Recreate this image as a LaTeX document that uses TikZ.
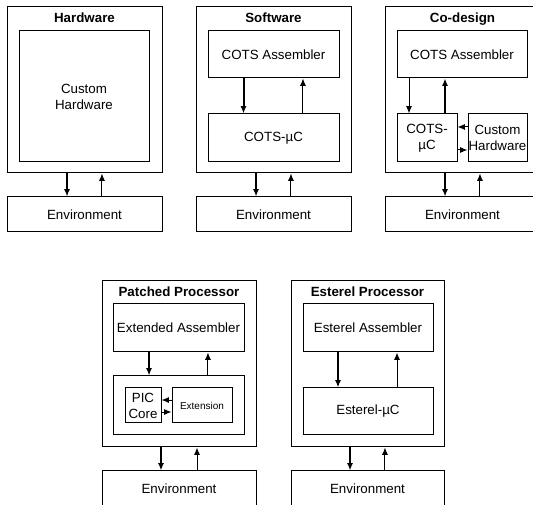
\documentclass[tikz,border=0pt]{standalone}
\usepackage{fontspec}
\setmainfont{Liberation Sans}
\usetikzlibrary{arrows.meta}

\tikzset{
  box/.style={draw, line width=0.75pt, minimum width=98.25pt, minimum height=36pt,
    inner sep=1pt, align=center},
  outerbox/.style={box, minimum width=116.25pt, minimum height=124.5pt},
  envbox/.style={box, minimum width=116.25pt, minimum height=26.25pt},
  title/.style={font=\bfseries, anchor=base, inner sep=0pt},
  fat/.style={->, line width=1.5pt},
  lean/.style={->, line width=0.75pt},
}

\begin{document}
\begin{tikzpicture}[x=0.75pt, y=0.75pt, >={Latex[length=5.5pt,width=4.5pt]}]
            \useasboundingbox (0,0) rectangle (533,505);
            \clip (0,0) rectangle (533,505);

            % Hardware
            \node[outerbox] (hwOuter) at (84.5,415) {};
            \node[title] (hwTitle) at ([yshift=-12.3pt]hwOuter.north) {Hardware};
            \node[box, minimum width=97.5pt, minimum height=98.25pt] (hwCustom) at (84,408.5) {Custom\\Hardware};
            \node[envbox] (hwEnv) at (84.5,290.5) {Environment};
            \draw[fat] ([xshift=-13.1pt]hwOuter.south) -- ([xshift=-13.1pt]hwEnv.north);
            \draw[lean] ([xshift=13.1pt]hwEnv.north) -- ([xshift=13.1pt]hwOuter.south);

            % Software
            \node[outerbox] (swOuter) at (273.5,415) {};
            \node[title] (swTitle) at ([yshift=-12.3pt]swOuter.north) {Software};
            \node[box, minimum height=35.25pt] (swAsm) at (273.5,450.5) {COTS Assembler};
            \node[box] (swUC) at (273.5,367) {COTS-µC};
            \node[envbox] (swEnv) at (273.5,290.5) {Environment};
            \draw[fat] ([xshift=-22.5pt]swAsm.south) -- ([xshift=-22.5pt]swUC.north);
            \draw[lean] ([xshift=22.1pt]swUC.north) -- ([xshift=22.1pt]swAsm.south);
            \draw[fat] ([xshift=-13.1pt]swOuter.south) -- ([xshift=-13.1pt]swEnv.north);
            \draw[lean] ([xshift=13.1pt]swEnv.north) -- ([xshift=13.1pt]swOuter.south);

            % Co-design
            \node[outerbox] (cdOuter) at (462.5,415) {};
            \node[title] (cdTitle) at ([yshift=-12.3pt]cdOuter.north) {Co-design};
            \node[box, minimum width=97.5pt, minimum height=35.25pt] (cdAsm) at (462,450.5) {COTS Assembler};
            \node[box, minimum width=45pt] (cdUC) at (427,367) {COTS-\\µC};
            \node[box, minimum width=44.25pt, inner sep=0pt] (cdCH) at (497.5,367) {Custom\\Hardware};
            \node[envbox] (cdEnv) at (462.5,290.5) {Environment};
            \draw[lean] ([xshift=-39.75pt]cdAsm.south) -- ([xshift=-13.5pt]cdUC.north);
            \draw[fat] ([xshift=13.5pt]cdUC.north) -- ([xshift=-12.75pt]cdAsm.south);
            \draw[lean] ([yshift=8.25pt]cdCH.west) -- ([yshift=8.25pt]cdUC.east);
            \draw[lean] ([yshift=-9pt]cdUC.east) -- ([yshift=-9pt]cdCH.west);
            \draw[fat] ([xshift=-13.1pt]cdOuter.south) -- ([xshift=-13.1pt]cdEnv.north);
            \draw[lean] ([xshift=13.1pt]cdEnv.north) -- ([xshift=13.1pt]cdOuter.south);

            % Patched Processor
            \node[outerbox, minimum width=115.5pt] (ppOuter) at (179,141) {};
            \node[title] (ppTitle) at ([yshift=-12.3pt]ppOuter.north) {Patched Processor};
            \node[box] (ppAsm) at (178.5,177) {Extended Assembler};
            \node[box, minimum height=44.25pt] (ppCont) at (178.5,99.5) {};
            \node[box, minimum width=27pt, minimum height=26.25pt, inner sep=0pt] (ppCore) at (143,99.5) {PIC\\Core};
            \node[box, minimum width=45pt, minimum height=26.25pt, font=\fontsize{7.5}{9}\selectfont] (ppExt) at (202,99.5) {Extension};
            \node[envbox, minimum width=115.5pt] (ppEnv) at (179,16.5) {Environment};
            \draw[fat] ([xshift=-22.1pt]ppAsm.south) -- ([xshift=-22.1pt]ppCont.north);
            \draw[lean] ([xshift=22.1pt]ppCont.north) -- ([xshift=22.1pt]ppAsm.south);
            \draw[lean] ([yshift=4.1pt]ppExt.west) -- ([yshift=4.1pt]ppCore.east);
            \draw[lean] ([yshift=-4.9pt]ppCore.east) -- ([yshift=-4.9pt]ppExt.west);
            \draw[fat] ([xshift=-13.5pt]ppOuter.south) -- ([xshift=-13.5pt]ppEnv.north);
            \draw[lean] ([xshift=13.5pt]ppEnv.north) -- ([xshift=13.5pt]ppOuter.south);

            % Esterel Processor
            \node[outerbox, minimum width=114.75pt] (esOuter) at (367.5,141) {};
            \node[title] (esTitle) at ([yshift=-12.3pt]esOuter.north) {Esterel Processor};
            \node[box, minimum width=97.5pt] (esAsm) at (368,177) {Esterel Assembler};
            \node[box, minimum width=97.5pt, minimum height=35.25pt] (esUC) at (368,93.5) {Esterel-µC};
            \node[envbox, minimum width=114.75pt] (esEnv) at (367.5,16.5) {Environment};
            \draw[fat] ([xshift=-22.5pt]esAsm.south) -- ([xshift=-22.5pt]esUC.north);
            \draw[lean] ([xshift=21.75pt]esUC.north) -- ([xshift=21.75pt]esAsm.south);
            \draw[fat] ([xshift=-13.1pt]esOuter.south) -- ([xshift=-13.1pt]esEnv.north);
            \draw[lean] ([xshift=13.1pt]esEnv.north) -- ([xshift=13.1pt]esOuter.south);
        \end{tikzpicture}
\end{document}
